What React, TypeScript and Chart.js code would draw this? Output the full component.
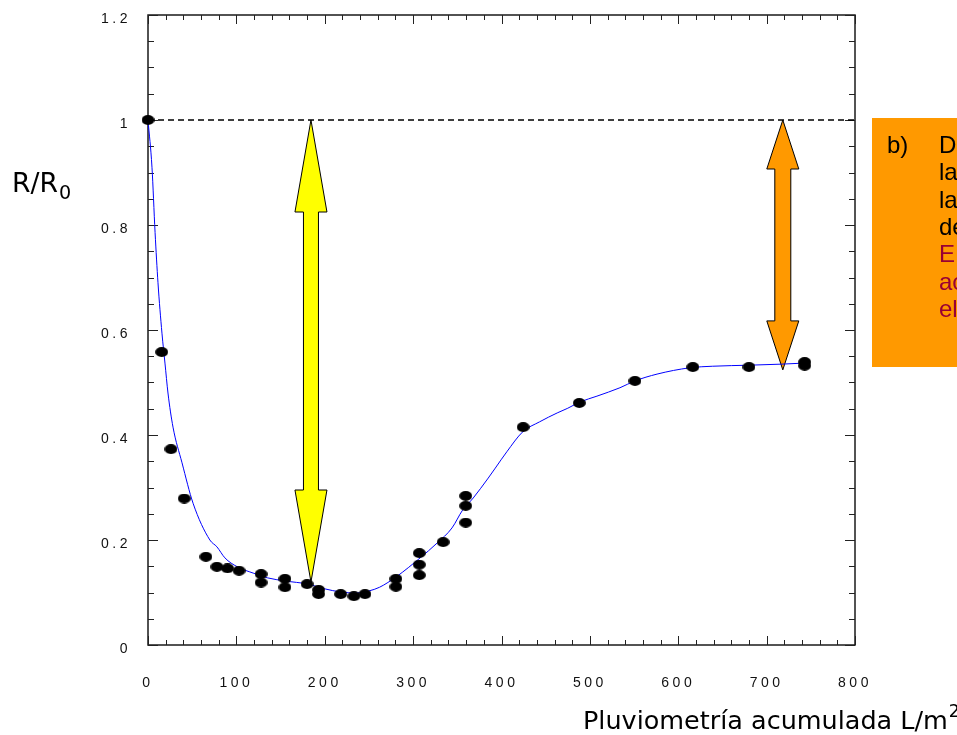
import React, { useEffect, useRef } from 'react';
import { Chart, registerables } from 'chart.js';

Chart.register(...registerables);

// ---- data ----
const POINT_X = [0, 15.5, 26, 41, 65.5, 78, 90, 103, 128, 128, 155, 155, 180, 193, 193, 218, 233, 245.5, 280.5, 280.5, 307, 307, 307, 334, 359.5, 359.5, 359.5, 424.5, 488, 551, 616.5, 680, 743, 743];
const POINT_Y = [1.0, 0.558, 0.373, 0.279, 0.168, 0.149, 0.146, 0.1415, 0.135, 0.119, 0.126, 0.11, 0.116, 0.105, 0.097, 0.097, 0.093, 0.097, 0.126, 0.111, 0.175, 0.153, 0.133, 0.196, 0.284, 0.265, 0.233, 0.415, 0.461, 0.503, 0.5295, 0.5295, 0.539, 0.532];

const CURVE_X = [0, 4.5, 8, 11.3, 15.8, 19.2, 22.6, 28.3, 38.5, 51, 70, 78, 87, 101, 119, 135, 155, 181, 200, 218, 235, 250, 262, 281, 308, 327, 344, 356, 368, 385, 393, 406, 424, 443, 463, 475, 489, 508, 534, 551, 576, 613, 639, 681, 717, 743];
const CURVE_Y = [1.0, 0.91, 0.786, 0.69, 0.594, 0.537, 0.48, 0.415, 0.347, 0.27, 0.2, 0.187, 0.166, 0.149, 0.137, 0.128, 0.122, 0.116, 0.107, 0.101, 0.099, 0.103, 0.11, 0.13, 0.166, 0.194, 0.223, 0.257, 0.28, 0.318, 0.337, 0.368, 0.406, 0.425, 0.442, 0.451, 0.463, 0.474, 0.49, 0.503, 0.516, 0.528, 0.531, 0.533, 0.535, 0.537];

const X_TICKS = [0, 100, 200, 300, 400, 500, 600, 700, 800];
const X_TICK_LABELS = ['0', '100', '200', '300', '400', '500', '600', '700', '800'];
const Y_TICKS = [0, 0.2, 0.4, 0.6, 0.8, 1, 1.2];
const Y_TICK_LABELS = ['0', '0.2', '0.4', '0.6', '0.8', '1', '1.2'];
const X_MINOR_STEP = 20;
const Y_MINOR_STEP = 0.05;

const REFERENCE_Y = 1;
const YELLOW_ARROW = { x: 184.4, from: 1.0, to: 0.12 };
const ORANGE_ARROW = { x: 718.3, from: 1.0, to: 0.524 };

const Y_TITLE = 'R/R';
const Y_TITLE_SUB = '0';
const X_TITLE = 'Pluviometría acumulada L/m';
const X_TITLE_SUP = '2';
const NOTE_MARK = 'b)';
const NOTE_BLACK = ['D', 'la', 'la', 'de'];
const NOTE_RED = ['E', 'ac', 'el'];

const TICK_FONT = 'Liberation Sans, Arial, sans-serif';
const TITLE_FONT = '"DejaVu Sans", sans-serif';

function makeDot(): HTMLCanvasElement {
  const c = document.createElement('canvas');
  c.width = 13;
  c.height = 10;
  const g = c.getContext('2d')!;
  g.fillStyle = '#000';
  g.beginPath();
  g.ellipse(6.5, 5, 6.4, 4.9, 0, 0, Math.PI * 2);
  g.fill();
  return c;
}

function drawArrow(ctx: CanvasRenderingContext2D, cx: number, yTop: number, yBot: number, headLen: number, headHalf: number, shaftHalf: number, fill: string) {
  ctx.save();
  ctx.beginPath();
  ctx.moveTo(cx, yTop);
  ctx.lineTo(cx + headHalf, yTop + headLen);
  ctx.lineTo(cx + shaftHalf, yTop + headLen);
  ctx.lineTo(cx + shaftHalf, yBot - headLen);
  ctx.lineTo(cx + headHalf, yBot - headLen);
  ctx.lineTo(cx, yBot);
  ctx.lineTo(cx - headHalf, yBot - headLen);
  ctx.lineTo(cx - shaftHalf, yBot - headLen);
  ctx.lineTo(cx - shaftHalf, yTop + headLen);
  ctx.lineTo(cx - headHalf, yTop + headLen);
  ctx.closePath();
  ctx.fillStyle = fill;
  ctx.fill();
  ctx.strokeStyle = '#000';
  ctx.lineWidth = 1;
  ctx.lineJoin = 'miter';
  ctx.stroke();
  ctx.restore();
}

function fitSize(ctx: CanvasRenderingContext2D, text: string, family: string, target: number): number {
  ctx.font = `100px ${family}`;
  const w = ctx.measureText(text).width;
  return (100 * target) / w;
}

const decorPlugin = {
  id: 'decor',
  beforeDraw(chart: any) {
    (chart.ctx as any).letterSpacing = '3.5px';
  },
  beforeDatasetsDraw(chart: any) {
    const ctx: CanvasRenderingContext2D = chart.ctx;
    const { left, right, top, bottom } = chart.chartArea;
    const xs = chart.scales.x;
    const ys = chart.scales.y;
    ctx.save();
    ctx.strokeStyle = '#1a1a1a';
    ctx.lineWidth = 1.5;
    ctx.strokeRect(left, top, right - left, bottom - top);
    ctx.lineWidth = 1;
    ctx.strokeStyle = '#222';
    ctx.beginPath();
    for (let i = 0; i <= 40; i++) {
      const v = i * X_MINOR_STEP;
      const px = Math.round(xs.getPixelForValue(v)) + 0.5;
      const major = i % 5 === 0;
      const len = major ? 9 : 5;
      ctx.moveTo(px, bottom);
      ctx.lineTo(px, bottom - len);
      ctx.moveTo(px, top);
      ctx.lineTo(px, top + len);
    }
    for (let i = 0; i <= 24; i++) {
      const v = i * Y_MINOR_STEP;
      const py = Math.round(ys.getPixelForValue(v)) + 0.5;
      const major = i % 4 === 0;
      const len = major ? 10 : 6;
      ctx.moveTo(left, py);
      ctx.lineTo(left + len, py);
      ctx.moveTo(right, py);
      ctx.lineTo(right - len, py);
    }
    ctx.stroke();
    ctx.restore();

    drawArrow(ctx, xs.getPixelForValue(YELLOW_ARROW.x), ys.getPixelForValue(YELLOW_ARROW.from), ys.getPixelForValue(YELLOW_ARROW.to), 92, 16, 7.5, '#FFFF00');
    drawArrow(ctx, xs.getPixelForValue(ORANGE_ARROW.x), ys.getPixelForValue(ORANGE_ARROW.from), ys.getPixelForValue(ORANGE_ARROW.to), 49, 16, 8, '#FF9900');
  },
  afterDraw(chart: any) {
    const ctx: CanvasRenderingContext2D = chart.ctx;
    (ctx as any).letterSpacing = '0px';
    ctx.save();
    ctx.fillStyle = '#000';
    ctx.textAlign = 'left';
    ctx.textBaseline = 'alphabetic';

    const ySize = fitSize(ctx, Y_TITLE, TITLE_FONT, 46);
    ctx.font = `${ySize}px ${TITLE_FONT}`;
    ctx.fillText(Y_TITLE, 12, 192);
    const yW = ctx.measureText(Y_TITLE).width;
    ctx.font = `${ySize * 0.72}px ${TITLE_FONT}`;
    ctx.fillText(Y_TITLE_SUB, 12 + yW + 1, 199);

    const xSize = fitSize(ctx, X_TITLE, TITLE_FONT, 365);
    ctx.font = `${xSize}px ${TITLE_FONT}`;
    ctx.fillText(X_TITLE, 583, 729);
    const xW = ctx.measureText(X_TITLE).width;
    ctx.font = `${xSize * 0.68}px ${TITLE_FONT}`;
    ctx.fillText(X_TITLE_SUP, 583 + xW + 1, 717);

    ctx.fillStyle = '#FF9900';
    ctx.fillRect(872, 118, 200, 249);
    ctx.font = `24px ${TICK_FONT}`;
    ctx.fillStyle = '#000';
    ctx.fillText(NOTE_MARK, 887, 153);
    const lh = 27.3;
    NOTE_BLACK.forEach((t, i) => ctx.fillText(t, 939, 153 + i * lh));
    ctx.fillStyle = '#990033';
    NOTE_RED.forEach((t, i) => ctx.fillText(t, 939, 153 + (NOTE_BLACK.length + i) * lh));
    ctx.restore();
  },
};

export default function App() {
  const ref = useRef<HTMLCanvasElement | null>(null);
  useEffect(() => {
    if (!ref.current) return;
    const dot = makeDot();
    const chart = new Chart(ref.current, {
      type: 'scatter',
      data: {
        datasets: [
          {
            label: 'fit',
            data: CURVE_X.map((x, i) => ({ x, y: CURVE_Y[i] })),
            showLine: true,
            borderColor: '#0000FF',
            borderWidth: 1,
            pointRadius: 0,
            cubicInterpolationMode: 'monotone',
            clip: false,
            order: 3,
          } as any,
          {
            label: 'ref',
            data: [{ x: 0, y: REFERENCE_Y }, { x: 800, y: REFERENCE_Y }],
            showLine: true,
            borderColor: '#000',
            borderWidth: 1.6,
            borderDash: [6, 4],
            pointRadius: 0,
            order: 2,
          } as any,
          {
            label: 'R/R0',
            data: POINT_X.map((x, i) => ({ x, y: POINT_Y[i] })),
            pointStyle: dot,
            pointRadius: 6,
            backgroundColor: '#000',
            borderColor: '#000',
            clip: false,
            order: 1,
          } as any,
        ],
      },
      options: {
        responsive: false,
        devicePixelRatio: 1,
        animation: false,
        layout: { padding: { top: 15, right: 102, left: 0, bottom: 0 } },
        plugins: { legend: { display: false }, tooltip: { enabled: false } },
        events: [],
        scales: {
          x: {
            type: 'linear',
            min: 0,
            max: 800,
            grid: { display: false, drawTicks: false },
            border: { display: false },
            afterBuildTicks: (s: any) => { s.ticks = X_TICKS.map((v) => ({ value: v })); },
            afterFit: (s: any) => { s.height = 90; s.paddingLeft = 0; s.paddingRight = 0; },
            ticks: {
              color: '#111',
              font: { family: TICK_FONT, size: 14 },
              padding: 30,
              maxRotation: 0,
              autoSkip: false,
              callback: (_v: any, i: number) => X_TICK_LABELS[i],
            },
          },
          y: {
            type: 'linear',
            min: 0,
            max: 1.2,
            grid: { display: false, drawTicks: false },
            border: { display: false },
            afterBuildTicks: (s: any) => { s.ticks = Y_TICKS.map((v) => ({ value: v })); },
            afterFit: (s: any) => { s.width = 148; s.paddingTop = 0; s.paddingBottom = 0; },
            ticks: {
              color: '#111',
              font: { family: TICK_FONT, size: 14 },
              padding: 17,
              labelOffset: 4,
              autoSkip: false,
              callback: (_v: any, i: number) => Y_TICK_LABELS[i],
            },
          },
        },
      },
      plugins: [decorPlugin],
    } as any);
    return () => chart.destroy();
  }, []);
  return (
    <div style={{ position: 'absolute', left: 0, top: 0, width: 957, height: 735, background: '#fff' }}>
      <canvas ref={ref} width={957} height={735} style={{ display: 'block' }} />
    </div>
  );
}
